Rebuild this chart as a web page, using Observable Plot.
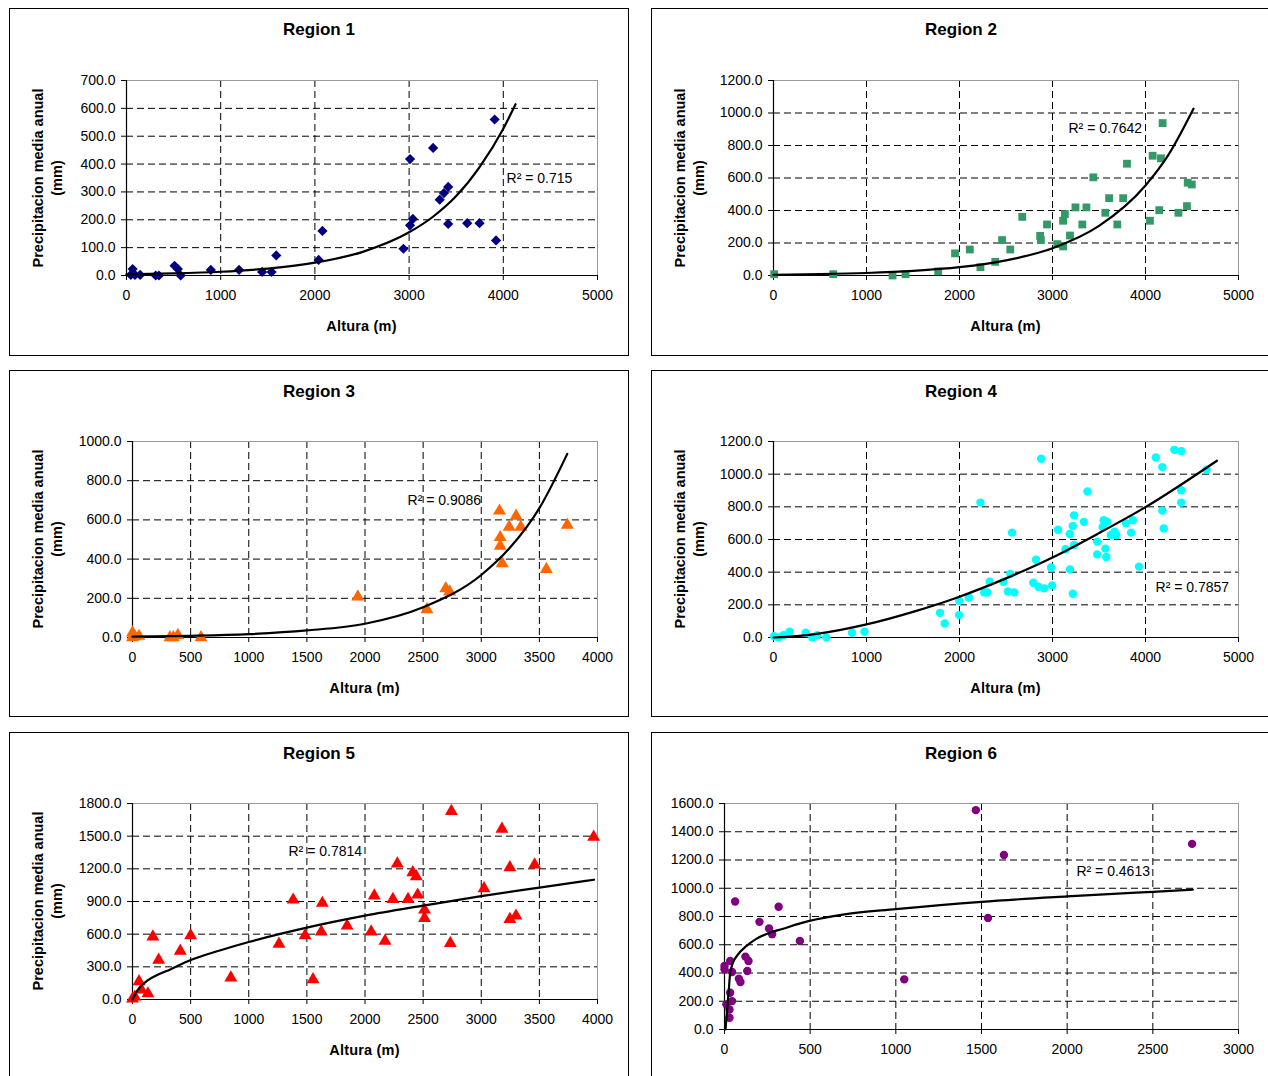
<!DOCTYPE html>
<html><head><meta charset="utf-8">
<script src="https://cdn.jsdelivr.net/npm/d3@7"></script>
<script src="https://cdn.jsdelivr.net/npm/@observablehq/plot@0.6"></script>
<style>
body{margin:0;background:#fff;font-family:"Liberation Sans",Arial,sans-serif;}
#page{position:relative;width:1268px;height:1076px;overflow:hidden;background:#fff;}
.box{position:absolute;border:1px solid #000;box-sizing:border-box;}
.title{position:absolute;font-weight:bold;font-size:17px;line-height:18px;text-align:center;color:#000;}
.ylab{position:absolute;width:280px;height:38px;font-weight:bold;font-size:14.5px;line-height:19px;text-align:center;transform:rotate(-90deg);color:#000;}
.xlab{position:absolute;width:200px;font-weight:bold;font-size:14.5px;line-height:16px;text-align:center;color:#000;letter-spacing:0.2px;}
.plot{position:absolute;}
</style>
</head><body><div id="page"></div>
<script>
// ---------- data ----------
const r1Alt = [45,65,90,145,310,345,510,545,575,895,1195,1440,1540,1590,2040,2080,2940,3010,3010,3040,3255,3325,3370,3415,3415,3617,3748,3908,3923];
const r1Pre = [2,23,2,2,0,0,35,23,0,20,20,13,13,72,56,160,96,418,180,203,458,272,296,318,185,188,188,560,126];
const r1TrendAlt = [0,500,1000,1500,2000,2500,3000,3250,3500,3750,4000,4130];
const r1TrendPre = [4,7.4,13.5,25,46,84,155,210,285,390,527,615];

const r2Alt = [7,642,1280,1420,1771,1952,2111,2225,2384,2458,2546,2675,2867,2875,2941,3052,3114,3114,3133,3188,3247,3321,3365,3439,3568,3609,3697,3760,3801,4048,4077,4148,4166,4184,4354,4446,4454,4498];
const r2Pre = [8,8,0,8,25,136,160,51,84,218,160,361,244,218,314,193,179,337,378,246,419,314,419,604,386,476,314,476,688,337,737,402,721,938,386,427,571,560];
const r2TrendAlt = [0,500,1000,1500,2000,2500,3000,3500,4000,4250,4517];
const r2TrendPre = [4.7,8.5,15.4,28,51,93,168,305,554,745,1027];

const r3Alt = [0,0,8,20,56,322,352,390,589,1938,2533,2695,2728,3157,3163,3163,3180,3240,3300,3340,3560,3740];
const r3Pre = [24,0,10,5,7,0,0,12,0,208,143,250,233,646,511,467,378,564,620,564,348,574];
const r3TrendAlt = [0,500,1000,1500,2000,2500,3000,3250,3500,3740];
const r3TrendPre = [4,8.4,17,36,70,154,319,460,660,937];

const r4Alt = [7,55,107,173,347,417,469,568,845,978,1790,1841,1996,1996,2100,2225,2266,2299,2325,2472,2520,2546,2565,2590,2793,2823,2849,2878,2911,2985,2996,3059,3140,3185,3188,3218,3218,3232,3232,3336,3376,3480,3480,3539,3550,3568,3579,3590,3627,3668,3686,3790,3845,3863,3930,4111,4181,4181,4196,4310,4384,4384,4384,4657];
const r4Pre = [8,0,14,35,29,0,14,0,29,35,151,86,225,137,245,826,276,276,341,341,282,389,642,276,335,476,311,1094,301,429,319,660,540,634,417,683,268,748,566,708,894,587,509,677,718,544,493,708,628,648,628,699,642,718,434,1102,1043,777,667,1149,1141,902,826,1027];
const r4TrendAlt = [0,250,500,1000,1500,2000,2500,3000,3500,4000,4768];
const r4TrendPre = [0,8,25,80,157,250,362,490,639,798,1082];

const r5Alt = [0,20,56,76,133,175,225,411,500,846,1260,1382,1485,1553,1633,1624,1846,2053,2080,2172,2240,2278,2370,2411,2441,2453,2512,2512,2734,2743,3024,3178,3246,3246,3299,3459,3967];
const r5Pre = [6,24,165,90,54,577,362,445,587,200,510,915,587,184,885,623,676,623,952,537,921,1247,921,1167,1130,961,823,746,516,1729,1020,1566,1213,737,768,1238,1493];
const r5TrendAlt = [0,28,71,127,212,325,500,750,1000,1500,2000,2500,3000,3500,3970];
const r5TrendPre = [0,60,120,174,225,276,362,450,528,660,770,862,950,1028,1100];

const r6Alt = [0,0,11,29,29,33,33,44,44,62,84,93,122,133,140,204,260,278,316,440,1049,1467,1538,1631,2729];
const r6Pre = [450,426,178,83,142,260,485,201,407,906,360,336,516,414,485,762,715,675,869,627,355,1553,790,1235,1314];
const r6TrendAlt = [6,15,25,33,48,77,125,183,260,337,490,700,1000,1500,2000,2500,2733];
const r6TrendPre = [0,136,279,398,469,529,588,640,683,712,767,815,852,904,942,975,990];

const ticks5000 = [0,1000,2000,3000,4000,5000];
const ticks4000 = [0,500,1000,1500,2000,2500,3000,3500,4000];
const ticks3000 = [0,500,1000,1500,2000,2500,3000];
const ticksY700 = [0,100,200,300,400,500,600,700];
const ticksY1200 = [0,200,400,600,800,1000,1200];
const ticksY1000 = [0,200,400,600,800,1000];
const ticksY1800 = [0,300,600,900,1200,1500,1800];
const ticksY1600 = [0,200,400,600,800,1000,1200,1400,1600];

const titles = ["Region 1","Region 2","Region 3","Region 4","Region 5","Region 6"];
const r2Labels = ["R\u00B2 = 0.715","R\u00B2 = 0.7642","R\u00B2 = 0.9086","R\u00B2 = 0.7857","R\u00B2 = 0.7814","R\u00B2 = 0.4613"];
const r2LabelAlt = [4035,3172,2366,4108,1342,2054];
const r2LabelPre = [348,905,699,306,1359,1119];
const colors = ["#000080","#339966","#ff6600","#00ffff","#ff0000","#800080"];
const symbols = ["diamond2","square","triangle","circle","triangle","circle"];
const symbolR = [4.6,4.4,4.8,4.2,4.8,4.2];
const yLabel = ["Precipitacion media anual","(mm)"];
const xLabel = "Altura (m)";
// region 6 shows neither axis title inside the picture
const showYLabel = [true,true,true,true,true,false];
const showXLabel = [true,true,true,true,true,false];

// ---------- layout ----------
const layout = [
  {left:9,  top:8,   h:348, px:126, py:80,  pw:471, ph:195},
  {left:651,top:8,   h:348, px:773, py:80,  pw:465, ph:195},
  {left:9,  top:370, h:347, px:132, py:441, pw:465, ph:196},
  {left:651,top:370, h:347, px:773, py:441, pw:465, ph:196},
  {left:9,  top:732, h:348, px:132, py:803, pw:465, ph:196},
  {left:651,top:732, h:348, px:724, py:803, pw:514, ph:226}
];
const series = [
  [r1Alt,r1Pre,r1TrendAlt,r1TrendPre,ticks5000,ticksY700],
  [r2Alt,r2Pre,r2TrendAlt,r2TrendPre,ticks5000,ticksY1200],
  [r3Alt,r3Pre,r3TrendAlt,r3TrendPre,ticks4000,ticksY1000],
  [r4Alt,r4Pre,r4TrendAlt,r4TrendPre,ticks5000,ticksY1200],
  [r5Alt,r5Pre,r5TrendAlt,r5TrendPre,ticks4000,ticksY1800],
  [r6Alt,r6Pre,r6TrendAlt,r6TrendPre,ticks3000,ticksY1600]
];

const page = document.getElementById("page");
const W = 620;
const font = '"Liberation Sans", Arial, sans-serif';

layout.forEach((L, i) => {
  const [xs, ys, txs, tys, xt, yt] = series[i];
  const pts = xs.map((x, k) => ({x, y: ys[k]}));
  const trend = txs.map((x, k) => ({x, y: tys[k]}));
  const xmax = xt[xt.length-1], ymax = yt[yt.length-1];

  const box = document.createElement("div");
  box.className = "box";
  Object.assign(box.style, {left: L.left+"px", top: L.top+"px", width: W+"px", height: L.h+"px"});
  page.appendChild(box);

  const svg = Plot.plot({
    width: W, height: L.h,
    marginLeft: L.px - L.left, marginTop: L.py - L.top,
    marginRight: L.left + W - (L.px + L.pw), marginBottom: L.top + L.h - (L.py + L.ph),
    x: {domain: [0, xmax]},
    y: {domain: [0, ymax]},
    style: {fontFamily: font, fontSize: "14px", background: "transparent", color: "#000", overflow: "visible"},
    marks: [
      Plot.ruleX(xt.filter(t => t > 0 && t < xmax), {stroke: "#000", strokeWidth: 1, strokeDasharray: "7,4"}),
      Plot.ruleY(yt.filter(t => t > 0 && t < ymax), {stroke: "#000", strokeWidth: 1, strokeDasharray: "7,4"}),
      Plot.frame({stroke: "#999", strokeWidth: 1}),
      Plot.ruleX([0], {stroke: "#000", strokeWidth: 1.2}),
      Plot.ruleY([0], {stroke: "#000", strokeWidth: 1.2}),
      Plot.axisX({ticks: xt, tickFormat: d => String(d), tickSize: 5, tickPadding: 10, label: null, fontSize: 14}),
      Plot.axisY({ticks: yt, tickFormat: d => d.toFixed(1), tickSize: 5, tickPadding: 6, label: null, fontSize: 14}),
      Plot.dot(pts, {x: "x", y: "y", symbol: () => symbols[i], r: symbolR[i], fill: colors[i], stroke: "none"}),
      Plot.line(trend, {x: "x", y: "y", stroke: "#000", strokeWidth: 2.2, curve: "monotone-x"}),
      Plot.text([0], {x: () => r2LabelAlt[i], y: () => r2LabelPre[i], text: () => r2Labels[i], textAnchor: "start", fontSize: 14, fill: "#000"})
    ]
  });
  svg.classList.add("plot");
  Object.assign(svg.style, {left: L.left+"px", top: L.top+"px", position: "absolute"});
  page.appendChild(svg);

  const t = document.createElement("div");
  t.className = "title";
  t.textContent = titles[i];
  Object.assign(t.style, {left: L.left+"px", top: (L.top+13)+"px", width: W+"px"});
  page.appendChild(t);

  if (showYLabel[i]) {
    const yl = document.createElement("div");
    yl.className = "ylab";
    yl.innerHTML = yLabel[0] + "<br>" + yLabel[1];
    const cy = L.py + L.ph/2;
    Object.assign(yl.style, {left: (L.left + 38.5 - 140)+"px", top: (cy - 19)+"px"});
    page.appendChild(yl);
  }

  if (showXLabel[i]) {
    const xl = document.createElement("div");
    xl.className = "xlab";
    xl.textContent = xLabel;
    Object.assign(xl.style, {left: (L.px + L.pw/2 - 100)+"px", top: (L.py + L.ph + 43)+"px"});
    page.appendChild(xl);
  }
});
</script>
</body></html>
